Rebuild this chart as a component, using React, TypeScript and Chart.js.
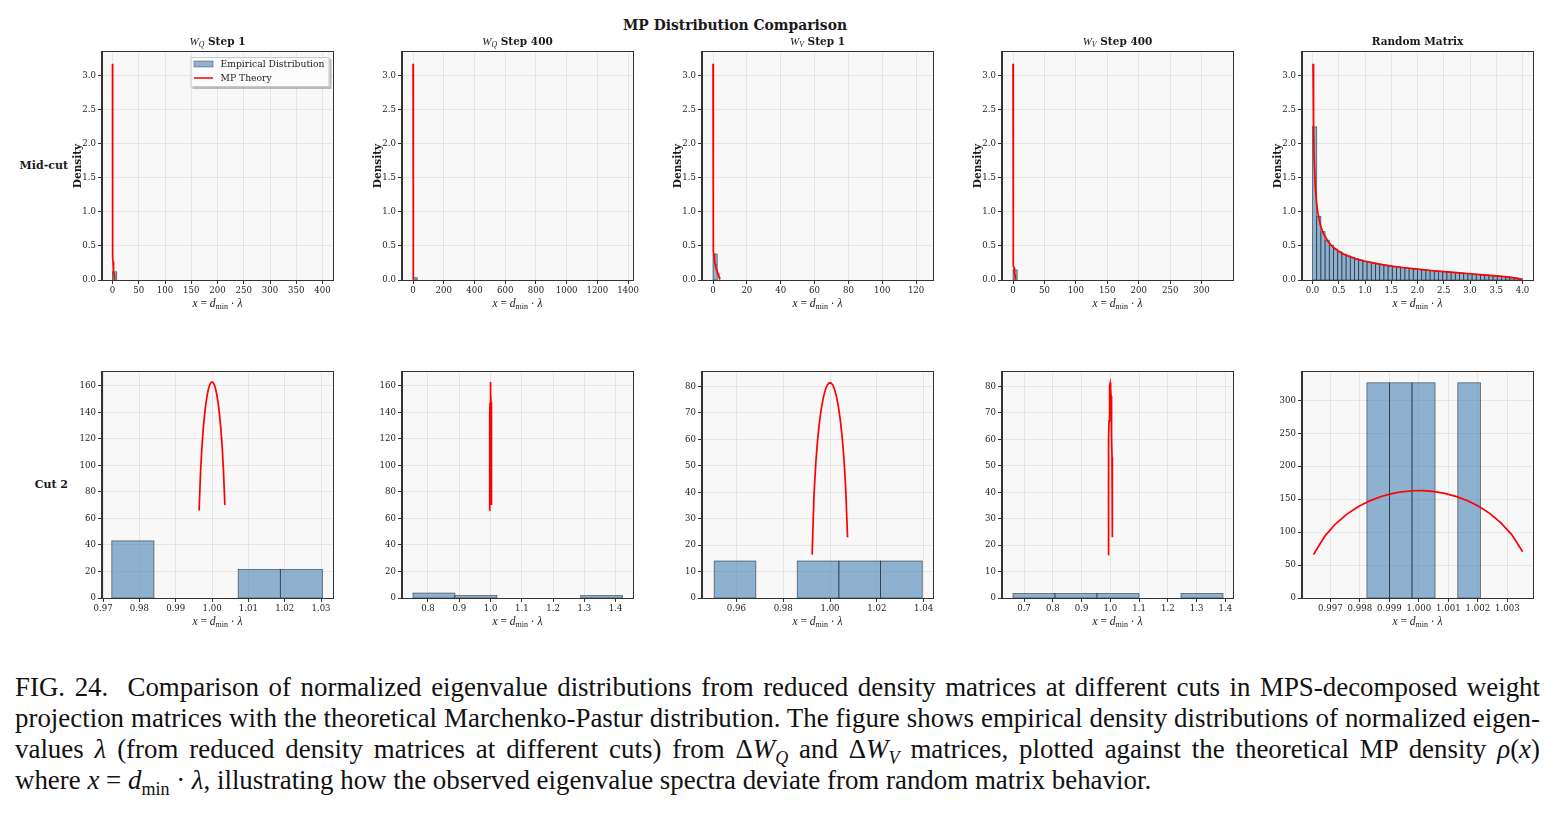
import React, { useEffect, useRef } from "react";
import { Chart, registerables } from "chart.js";

Chart.register(...registerables);

// ---------------- data ----------------

// Marchenko–Pastur density for the square case, sampled on (0, 4)
const mpFullX = [0.01, 0.02, 0.03, 0.05, 0.075, 0.1, 0.15, 0.2, 0.3, 0.4, 0.5, 0.6, 0.8, 1.0, 1.25, 1.5, 1.75, 2.0, 2.25, 2.5, 2.75, 3.0, 3.25, 3.5, 3.75, 3.9, 3.97, 3.99];
const mpFullY = [3.179, 2.245, 1.831, 1.415, 1.151, 0.994, 0.806, 0.694, 0.559, 0.477, 0.421, 0.379, 0.318, 0.276, 0.236, 0.205, 0.18, 0.159, 0.14, 0.123, 0.107, 0.092, 0.076, 0.06, 0.041, 0.025, 0.014, 0.008];

// MP density around x = 1 for the very thin cut (peak ≈ 163)
const mpNarrowX = [0.996434, 0.996807, 0.99718, 0.997553, 0.997926, 0.998299, 0.998672, 0.999045, 0.999418, 0.999791, 1.000164, 1.000537, 1.00091, 1.001283, 1.001656, 1.002029, 1.002402, 1.002775, 1.003148, 1.003521];
const mpNarrowY = [66.0, 93.6, 112.6, 126.9, 138.0, 146.7, 153.3, 158.0, 161.2, 162.8, 162.9, 161.4, 158.5, 153.9, 147.6, 139.2, 128.4, 114.5, 96.2, 70.1];

// MP density around x = 1 for the W_V cut (peak ≈ 81)
const mpWideX = [0.99236, 0.993156, 0.993952, 0.994748, 0.995544, 0.99634, 0.997136, 0.997932, 0.998728, 0.999524, 1.00032, 1.001116, 1.001912, 1.002708, 1.003504, 1.0043, 1.005096, 1.005892, 1.006688, 1.007484];
const mpWideY = [16.4, 39.1, 51.5, 60.3, 66.9, 72.0, 75.8, 78.6, 80.4, 81.3, 81.4, 80.7, 79.0, 76.4, 72.8, 68.0, 61.7, 53.4, 41.9, 23.0];

// Mid-cut histograms (bin left edge, right edge, density)
const wq1BinLeft = [0];
const wq1BinRight = [8];
const wq1Density = [0.12];

const wq400BinLeft = [0];
const wq400BinRight = [27.3];
const wq400Density = [0.034];

const wv1BinLeft = [0];
const wv1BinRight = [2.5];
const wv1Density = [0.382];

const wv400BinLeft = [0];
const wv400BinRight = [6.67];
const wv400Density = [0.147];

const randomBinLeft = [0, 0.08, 0.16, 0.24, 0.32, 0.4, 0.48, 0.56, 0.64, 0.72, 0.8, 0.88, 0.96, 1.04, 1.12, 1.2, 1.28, 1.36, 1.44, 1.52, 1.6, 1.68, 1.76, 1.84, 1.92, 2.0, 2.08, 2.16, 2.24, 2.32, 2.4, 2.48, 2.56, 2.64, 2.72, 2.8, 2.88, 2.96, 3.04, 3.12, 3.2, 3.28, 3.36, 3.44, 3.52, 3.6, 3.68, 3.76, 3.84, 3.92];
const randomBinWidth = 0.08;
const randomDensity = [2.25, 0.935, 0.71, 0.585, 0.51, 0.455, 0.415, 0.38, 0.352, 0.33, 0.31, 0.292, 0.277, 0.262, 0.25, 0.238, 0.227, 0.217, 0.208, 0.199, 0.191, 0.183, 0.176, 0.169, 0.162, 0.156, 0.15, 0.144, 0.138, 0.133, 0.127, 0.122, 0.117, 0.112, 0.107, 0.102, 0.097, 0.092, 0.087, 0.082, 0.077, 0.072, 0.067, 0.061, 0.056, 0.05, 0.044, 0.037, 0.029, 0.019];

// Cut 2 histograms
const c2wq1BinLeft = [0.9724, 1.0072, 1.0188];
const c2wq1BinRight = [0.984, 1.0188, 1.0304];
const c2wq1Density = [43.1, 21.55, 21.55];

const c2wq400BinLeft = [0.752, 0.886, 1.288];
const c2wq400BinRight = [0.886, 1.02, 1.422];
const c2wq400Density = [3.73, 1.865, 1.865];

const c2wv1BinLeft = [0.9505, 0.986, 1.0038, 1.0216];
const c2wv1BinRight = [0.9683, 1.0038, 1.0216, 1.0394];
const c2wv1Density = [14.0, 14.0, 14.0, 14.0];

const c2wv400BinLeft = [0.6617, 0.8077, 0.9537, 1.2457];
const c2wv400BinRight = [0.8077, 0.9537, 1.0997, 1.3917];
const c2wv400Density = [1.71, 1.71, 1.71, 1.71];

const c2randBinLeft = [0.99824, 0.99901, 0.99977, 1.00132];
const c2randBinRight = [0.99901, 0.99977, 1.00055, 1.00209];
const c2randDensity = [326.6, 326.6, 326.6, 326.6];

// tick values
const topYTicks = [0, 0.5, 1.0, 1.5, 2.0, 2.5, 3.0];
const wq1XTicks = [0, 50, 100, 150, 200, 250, 300, 350, 400];
const wq400XTicks = [0, 200, 400, 600, 800, 1000, 1200, 1400];
const wv1XTicks = [0, 20, 40, 60, 80, 100, 120];
const wv400XTicks = [0, 50, 100, 150, 200, 250, 300];
const randomXTicks = [0, 0.5, 1.0, 1.5, 2.0, 2.5, 3.0, 3.5, 4.0];

const c2wq1XTicks = [0.97, 0.98, 0.99, 1.0, 1.01, 1.02, 1.03];
const c2wq400XTicks = [0.8, 0.9, 1.0, 1.1, 1.2, 1.3, 1.4];
const c2wv1XTicks = [0.96, 0.98, 1.0, 1.02, 1.04];
const c2wv400XTicks = [0.7, 0.8, 0.9, 1.0, 1.1, 1.2, 1.3, 1.4];
const c2randXTicks = [0.997, 0.998, 0.999, 1.0, 1.001, 1.002, 1.003];
const c2wqYTicks = [0, 20, 40, 60, 80, 100, 120, 140, 160];
const c2wvYTicks = [0, 10, 20, 30, 40, 50, 60, 70, 80];
const c2randYTicks = [0, 50, 100, 150, 200, 250, 300];

// ---------------- styling ----------------

const SERIF = '"DejaVu Serif", serif';
const MATH = '"Liberation Serif", "Times New Roman", serif';
const BAR_FILL = "rgba(70,130,180,0.6)";
const BAR_EDGE = "rgba(0,0,0,0.55)";
const AXES_BG = "#f8f8f8";
const SPINE = "#333333";
const TICK_FONT_SIZE = 8.6;
const TEXT = "#1a1a1a";

const PLOT_W = 231;
const PAD_LEFT = 50;
const PAD_TOP = 30;
const PAD_RIGHT = 20;
const AXIS_H = 35;

type Run = { text: string; font: string; dy?: number };

function drawRuns(ctx: CanvasRenderingContext2D, runs: Run[], cx: number, cy: number) {
  let total = 0;
  const widths = runs.map((r) => {
    ctx.font = r.font;
    const w = ctx.measureText(r.text).width;
    total += w;
    return w;
  });
  let x = cx - total / 2;
  ctx.textBaseline = "alphabetic";
  ctx.textAlign = "left";
  runs.forEach((r, i) => {
    ctx.font = r.font;
    ctx.fillText(r.text, x, cy + (r.dy || 0));
    x += widths[i];
  });
}

const xLabelRuns: Run[] = [
  { text: "x", font: `italic 11.5px ${MATH}` },
  { text: " = ", font: `11.5px ${MATH}` },
  { text: "d", font: `italic 11.5px ${MATH}` },
  { text: "min", font: `8px ${MATH}`, dy: 2 },
  { text: " · ", font: `11.5px ${MATH}` },
  { text: "λ", font: `italic 11.5px ${MATH}` },
];

function mathTitle(sub: string, rest: string): Run[] {
  return [
    { text: "W", font: `italic 11px ${MATH}` },
    { text: sub, font: `italic 7.8px ${MATH}`, dy: 2 },
    { text: rest, font: `bold 10.5px ${SERIF}` },
  ];
}

interface PanelDef {
  key: string;
  left: number;
  top: number;
  height: number;
  xMin: number;
  xMax: number;
  yMax: number;
  xTicks: number[];
  yTicks: number[];
  xDec: number;
  yDec: number;
  binLeft: number[];
  binRight: number[];
  density: number[];
  curveX: number[];
  curveY: number[];
  title?: Run[];
  densityLabel?: boolean;
  legend?: boolean;
}

const TOP_Y = 52;
const TOP_H = 228;
const BOT_Y = 372;
const BOT_H = 226;

const panels: PanelDef[] = [
  {
    key: "wq1", left: 102, top: TOP_Y, height: TOP_H, xMin: -20, xMax: 420, yMax: 3.35,
    xTicks: wq1XTicks, yTicks: topYTicks, xDec: 0, yDec: 1,
    binLeft: wq1BinLeft, binRight: wq1BinRight, density: wq1Density,
    curveX: mpFullX, curveY: mpFullY, title: mathTitle("Q", " Step 1"), densityLabel: true, legend: true,
  },
  {
    key: "wq400", left: 402, top: TOP_Y, height: TOP_H, xMin: -72, xMax: 1432, yMax: 3.35,
    xTicks: wq400XTicks, yTicks: topYTicks, xDec: 0, yDec: 1,
    binLeft: wq400BinLeft, binRight: wq400BinRight, density: wq400Density,
    curveX: mpFullX, curveY: mpFullY, title: mathTitle("Q", " Step 400"), densityLabel: true,
  },
  {
    key: "wv1", left: 702, top: TOP_Y, height: TOP_H, xMin: -6.5, xMax: 130, yMax: 3.35,
    xTicks: wv1XTicks, yTicks: topYTicks, xDec: 0, yDec: 1,
    binLeft: wv1BinLeft, binRight: wv1BinRight, density: wv1Density,
    curveX: mpFullX, curveY: mpFullY, title: mathTitle("V", " Step 1"), densityLabel: true,
  },
  {
    key: "wv400", left: 1002, top: TOP_Y, height: TOP_H, xMin: -17.5, xMax: 350, yMax: 3.35,
    xTicks: wv400XTicks, yTicks: topYTicks, xDec: 0, yDec: 1,
    binLeft: wv400BinLeft, binRight: wv400BinRight, density: wv400Density,
    curveX: mpFullX, curveY: mpFullY, title: mathTitle("V", " Step 400"), densityLabel: true,
  },
  {
    key: "rand", left: 1302, top: TOP_Y, height: TOP_H, xMin: -0.2, xMax: 4.2, yMax: 3.35,
    xTicks: randomXTicks, yTicks: topYTicks, xDec: 1, yDec: 1,
    binLeft: randomBinLeft, binRight: randomBinLeft.map((v) => v + randomBinWidth), density: randomDensity,
    curveX: mpFullX, curveY: mpFullY, title: [{ text: "Random Matrix", font: `bold 10.5px ${SERIF}` }], densityLabel: true,
  },
  {
    key: "c2wq1", left: 102, top: BOT_Y, height: BOT_H, xMin: 0.9697, xMax: 1.0333, yMax: 170.5,
    xTicks: c2wq1XTicks, yTicks: c2wqYTicks, xDec: 2, yDec: 0,
    binLeft: c2wq1BinLeft, binRight: c2wq1BinRight, density: c2wq1Density,
    curveX: mpNarrowX, curveY: mpNarrowY,
  },
  {
    key: "c2wq400", left: 402, top: BOT_Y, height: BOT_H, xMin: 0.7169, xMax: 1.4553, yMax: 170.5,
    xTicks: c2wq400XTicks, yTicks: c2wqYTicks, xDec: 1, yDec: 0,
    binLeft: c2wq400BinLeft, binRight: c2wq400BinRight, density: c2wq400Density,
    curveX: mpNarrowX, curveY: mpNarrowY,
  },
  {
    key: "c2wv1", left: 702, top: BOT_Y, height: BOT_H, xMin: 0.9453, xMax: 1.044, yMax: 85.5,
    xTicks: c2wv1XTicks, yTicks: c2wvYTicks, xDec: 2, yDec: 0,
    binLeft: c2wv1BinLeft, binRight: c2wv1BinRight, density: c2wv1Density,
    curveX: mpWideX, curveY: mpWideY,
  },
  {
    key: "c2wv400", left: 1002, top: BOT_Y, height: BOT_H, xMin: 0.6235, xMax: 1.4265, yMax: 85.5,
    xTicks: c2wv400XTicks, yTicks: c2wvYTicks, xDec: 1, yDec: 0,
    binLeft: c2wv400BinLeft, binRight: c2wv400BinRight, density: c2wv400Density,
    curveX: mpWideX, curveY: mpWideY,
  },
  {
    key: "c2rand", left: 1302, top: BOT_Y, height: BOT_H, xMin: 0.99604, xMax: 1.00387, yMax: 343,
    xTicks: c2randXTicks, yTicks: c2randYTicks, xDec: 3, yDec: 0,
    binLeft: c2randBinLeft, binRight: c2randBinRight, density: c2randDensity,
    curveX: mpNarrowX, curveY: mpNarrowY,
  },
];

function drawLegend(ctx: CanvasRenderingContext2D, right: number, top: number) {
  const w = 139;
  const h = 30;
  const x0 = right - 3.5 - w;
  const y0 = top + 5;
  ctx.save();
  ctx.fillStyle = "rgba(0,0,0,0.25)";
  ctx.fillRect(x0 + 2, y0 + 2, w, h);
  ctx.fillStyle = "#fbfbfb";
  ctx.fillRect(x0, y0, w, h);
  ctx.strokeStyle = "#c8c8c8";
  ctx.lineWidth = 1;
  ctx.strokeRect(x0 + 0.5, y0 + 0.5, w - 1, h - 1);
  // histogram patch
  ctx.fillStyle = BAR_FILL;
  ctx.fillRect(x0 + 3.5, y0 + 4, 19, 6);
  ctx.strokeStyle = BAR_EDGE;
  ctx.lineWidth = 0.6;
  ctx.strokeRect(x0 + 3.5, y0 + 4, 19, 6);
  // line sample
  ctx.strokeStyle = "#ff0000";
  ctx.lineWidth = 1.5;
  ctx.beginPath();
  ctx.moveTo(x0 + 3.5, y0 + 21);
  ctx.lineTo(x0 + 22.5, y0 + 21);
  ctx.stroke();
  ctx.fillStyle = TEXT;
  ctx.font = `9.2px ${SERIF}`;
  ctx.textBaseline = "middle";
  ctx.textAlign = "left";
  ctx.fillText("Empirical Distribution", x0 + 30, y0 + 7.5);
  ctx.fillText("MP Theory", x0 + 30, y0 + 21.5);
  ctx.restore();
}

function fmt(v: number, dec: number) {
  return v.toFixed(dec);
}

function PanelChart({ def }: { def: PanelDef }) {
  const ref = useRef<HTMLCanvasElement | null>(null);
  const canvasW = PAD_LEFT + PLOT_W + PAD_RIGHT;
  const canvasH = PAD_TOP + def.height + AXIS_H;

  useEffect(() => {
    if (!ref.current) return;
    const decor = {
      id: "panelDecor",
      beforeDraw(chart: any) {
        const { ctx, chartArea: a } = chart;
        ctx.save();
        ctx.fillStyle = AXES_BG;
        ctx.fillRect(a.left, a.top, a.right - a.left, a.bottom - a.top);
        ctx.restore();
      },
      beforeDatasetsDraw(chart: any) {
        const { ctx, chartArea: a, scales } = chart;
        const xs = scales.x;
        const ys = scales.y;
        ctx.save();
        ctx.beginPath();
        ctx.rect(a.left, a.top, a.right - a.left, a.bottom - a.top);
        ctx.clip();
        const base = ys.getPixelForValue(0);
        def.density.forEach((d, i) => {
          const x0 = xs.getPixelForValue(def.binLeft[i]);
          const x1 = xs.getPixelForValue(def.binRight[i]);
          const yT = ys.getPixelForValue(d);
          ctx.fillStyle = BAR_FILL;
          ctx.fillRect(x0, yT, x1 - x0, base - yT);
          ctx.strokeStyle = BAR_EDGE;
          ctx.lineWidth = 0.8;
          ctx.strokeRect(x0, yT, x1 - x0, base - yT);
        });
        ctx.restore();
      },
      afterDraw(chart: any) {
        const { ctx, chartArea: a } = chart;
        ctx.save();
        ctx.strokeStyle = SPINE;
        ctx.lineWidth = 1;
        ctx.strokeRect(Math.round(a.left) - 0.5, Math.round(a.top) - 0.5, Math.round(a.right - a.left) + 1, Math.round(a.bottom - a.top) + 1);
        ctx.fillStyle = TEXT;
        const cx = (a.left + a.right) / 2;
        if (def.title) drawRuns(ctx, def.title, cx, a.top - 7.5);
        drawRuns(ctx, xLabelRuns, cx, a.bottom + 27);
        if (def.densityLabel) {
          ctx.save();
          ctx.translate(a.left - 24, (a.top + a.bottom) / 2);
          ctx.rotate(-Math.PI / 2);
          ctx.font = `bold 10.5px ${SERIF}`;
          ctx.textAlign = "center";
          ctx.textBaseline = "middle";
          ctx.fillText("Density", 0, 0);
          ctx.restore();
        }
        if (def.legend) drawLegend(ctx, a.right, a.top);
        ctx.restore();
      },
    };

    const tickFont = { family: SERIF, size: TICK_FONT_SIZE };
    const chart = new Chart(ref.current, {
      type: "scatter",
      data: {
        datasets: [
          {
            label: "MP Theory",
            data: def.curveX.map((x, i) => ({ x, y: def.curveY[i] })),
            showLine: true,
            borderColor: "#ff0000",
            borderWidth: 1.7,
            pointRadius: 0,
            tension: 0,
            fill: false,
          },
        ],
      },
      options: {
        animation: false,
        responsive: false,
        devicePixelRatio: 1,
        events: [],
        layout: { padding: { left: 0, top: PAD_TOP, right: PAD_RIGHT, bottom: 0 } },
        plugins: { legend: { display: false }, tooltip: { enabled: false }, title: { display: false } },
        scales: {
          x: {
            type: "linear",
            min: def.xMin,
            max: def.xMax,
            afterBuildTicks: (s: any) => {
              s.ticks = def.xTicks.map((v) => ({ value: v }));
            },
            afterFit: (s: any) => {
              s.height = AXIS_H;
            },
            ticks: {
              autoSkip: false,
              maxRotation: 0,
              minRotation: 0,
              padding: 2,
              color: TEXT,
              font: tickFont,
              callback: (v: any) => fmt(Number(v), def.xDec),
            },
            grid: { color: "rgba(0,0,0,0.09)", lineWidth: 0.8, tickLength: 4, tickColor: SPINE, tickWidth: 1 },
            border: { color: SPINE, width: 1 },
          },
          y: {
            type: "linear",
            min: 0,
            max: def.yMax,
            afterBuildTicks: (s: any) => {
              s.ticks = def.yTicks.map((v) => ({ value: v }));
            },
            afterFit: (s: any) => {
              s.width = PAD_LEFT;
            },
            ticks: {
              autoSkip: false,
              padding: 2,
              color: TEXT,
              font: tickFont,
              callback: (v: any) => fmt(Number(v), def.yDec),
            },
            grid: { color: "rgba(0,0,0,0.09)", lineWidth: 0.8, tickLength: 4, tickColor: SPINE, tickWidth: 1 },
            border: { color: SPINE, width: 1 },
          },
        },
      } as any,
      plugins: [decor],
    });
    return () => chart.destroy();
  }, [def]);

  return (
    <canvas
      ref={ref}
      width={canvasW}
      height={canvasH}
      style={{ position: "absolute", left: def.left - PAD_LEFT, top: def.top - PAD_TOP, width: canvasW, height: canvasH }}
    />
  );
}

const captionStyle: React.CSSProperties = {
  fontFamily: '"Liberation Serif", "Times New Roman", serif',
  fontSize: 26.9,
  lineHeight: "31px",
  color: "#111",
  textAlign: "justify",
  textAlignLast: "justify",
  width: 1525,
  whiteSpace: "nowrap",
};

const subStyle: React.CSSProperties = { fontSize: 18, lineHeight: 0 };

export default function App() {
  return (
    <div style={{ position: "absolute", left: 0, top: 0, width: 1556, height: 813, background: "#fff", overflow: "hidden" }}>
      <div
        style={{
          position: "absolute", left: 435, top: 16, width: 600, textAlign: "center",
          font: `bold 13.9px ${SERIF}`, lineHeight: "18px", color: TEXT,
        }}
      >
        MP Distribution Comparison
      </div>
      <div style={{ position: "absolute", right: 1556 - 68, top: 158, font: `bold 11px ${SERIF}`, lineHeight: "16px", color: TEXT }}>
        Mid-cut
      </div>
      <div style={{ position: "absolute", right: 1556 - 68, top: 477, font: `bold 11px ${SERIF}`, lineHeight: "16px", color: TEXT }}>
        Cut 2
      </div>
      {panels.map((p) => (
        <PanelChart key={p.key} def={p} />
      ))}
      <div style={{ position: "absolute", left: 15, top: 672 }}>
        <div style={captionStyle}>
          FIG. 24.&nbsp; Comparison of normalized eigenvalue distributions from reduced density matrices at different cuts in MPS-decomposed weight
        </div>
        <div style={captionStyle}>
          projection matrices with the theoretical Marchenko-Pastur distribution. The figure shows empirical density distributions of normalized eigen-
        </div>
        <div style={captionStyle}>
          values <i>λ</i> (from reduced density matrices at different cuts) from Δ<i>W</i>
          <sub style={{ ...subStyle, fontStyle: "italic" }}>Q</sub> and Δ<i>W</i>
          <sub style={{ ...subStyle, fontStyle: "italic" }}>V</sub> matrices, plotted against the theoretical MP density <i>ρ</i>(<i>x</i>)
        </div>
        <div style={{ ...captionStyle, textAlignLast: "left", textAlign: "left" }}>
          where <i>x</i> = <i>d</i>
          <sub style={subStyle}>min</sub> · <i>λ</i>, illustrating how the observed eigenvalue spectra deviate from random matrix behavior.
        </div>
      </div>
    </div>
  );
}
